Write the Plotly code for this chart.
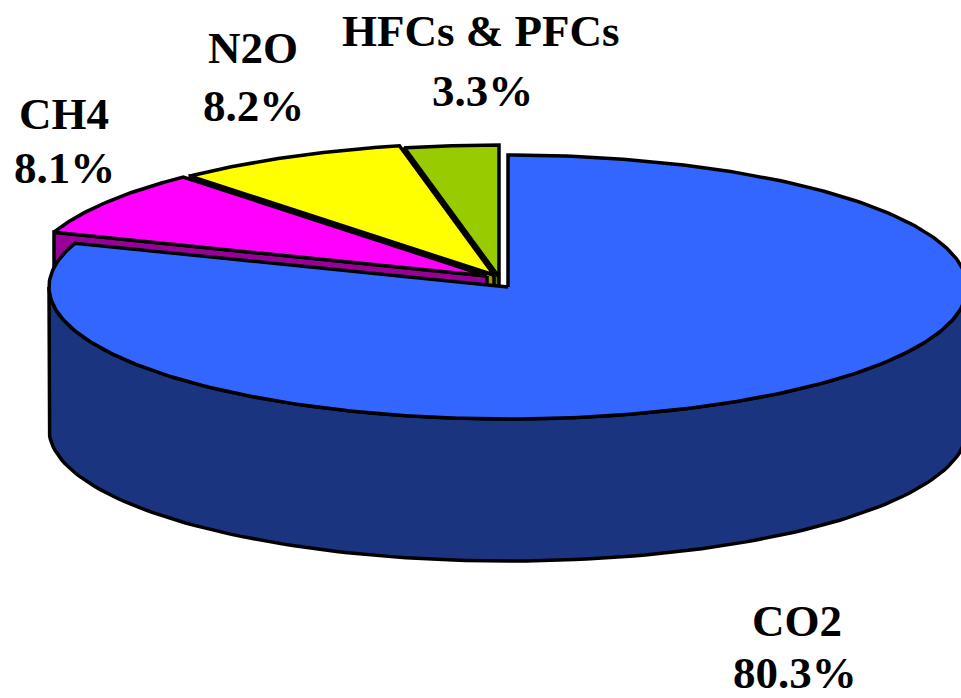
import numpy as np
import plotly.graph_objects as go

# ---- data ----
labels = ["CO2", "CH4", "N2O", "HFCs & PFCs"]
values = [80.3, 8.1, 8.2, 3.3]

# ---- style ----
top_colors = ["#3366FF", "#FF00FF", "#FFFF00", "#99CC00"]
side_colors = ["#1A347F", "#990099", "#999900", "#5C7A00"]
explode = [(0, 0), (-21, -11), (-14, -12), (-9, -10)]   # pixel offsets of exploded slices
label_pos = [((797, 621), (795, 673)), ((64, 114), (64, 168)),
             ((253, 48), (253, 106)), ((480, 31), (482, 91))]

W, H = 961, 698
CX, CY, A, B, DEPTH = 508, 287, 459, 132, 142
LW = 3.5

tot = sum(values)
bounds = np.concatenate([[0], np.cumsum(values) / tot * 360.0])


def rim(t0, t1, dx, dy, down=0.0, n=120):
    t = np.radians(np.linspace(t0, t1, n))
    return CX + dx + A * np.sin(t), CY + dy - B * np.cos(t) + down


def poly(x, y, fill):
    return go.Scatter(x=list(x), y=list(y), mode="lines", fill="toself",
                      fillcolor=fill, line=dict(color="black", width=LW),
                      hoverinfo="skip", showlegend=False)


traces = []
# radial start faces of the exploded small slices (back to front)
for i in [3, 2, 1]:
    dx, dy = explode[i]
    t = np.radians(bounds[i])
    ax, ay = CX + dx, CY + dy
    rx, ry = ax + A * np.sin(t), ay - B * np.cos(t)
    traces.append(poly([ax, rx, rx, ax, ax], [ay, ry, ry + DEPTH, ay + DEPTH, ay], side_colors[i]))
# tops of small slices
for i in [3, 2, 1]:
    dx, dy = explode[i]
    x, y = rim(bounds[i], bounds[i + 1], dx, dy)
    traces.append(poly(np.r_[CX + dx, x, CX + dx], np.r_[CY + dy, y, CY + dy], top_colors[i]))
# front wall of the big slice
dx, dy = explode[0]
x1, y1 = rim(90, 270, dx, dy)
x2, y2 = rim(270, 90, dx, dy, DEPTH)
traces.append(poly(np.r_[x1, x2, x1[0]], np.r_[y1, y2, y1[0]], side_colors[0]))
# top of the big slice
x, y = rim(bounds[0], bounds[1], dx, dy, n=400)
traces.append(poly(np.r_[CX + dx, x, CX + dx], np.r_[CY + dy, y, CY + dy], top_colors[0]))

fig = go.Figure(traces)

font = dict(family="Liberation Serif, Times New Roman, serif", size=45, color="black")
ann = []
for i, lab in enumerate(labels):
    (nx, ny), (px, py) = label_pos[i]
    ann.append(dict(x=nx, y=ny, text=f"<b>{lab}</b>", showarrow=False, font=font,
                    xanchor="center", yanchor="middle"))
    ann.append(dict(x=px, y=py, text=f"<b>{values[i]:.1f}%</b>", showarrow=False, font=font,
                    xanchor="center", yanchor="middle"))

fig.update_layout(
    width=W, height=H, margin=dict(l=0, r=0, t=0, b=0),
    paper_bgcolor="white", plot_bgcolor="white",
    xaxis=dict(range=[0, W], visible=False, fixedrange=True),
    yaxis=dict(range=[H, 0], visible=False, fixedrange=True),
    annotations=ann, showlegend=False,
)
fig.write_html("out.html", config={"displayModeBar": False},
               post_script="document.body.style.margin='0';document.body.style.overflow='hidden';")
